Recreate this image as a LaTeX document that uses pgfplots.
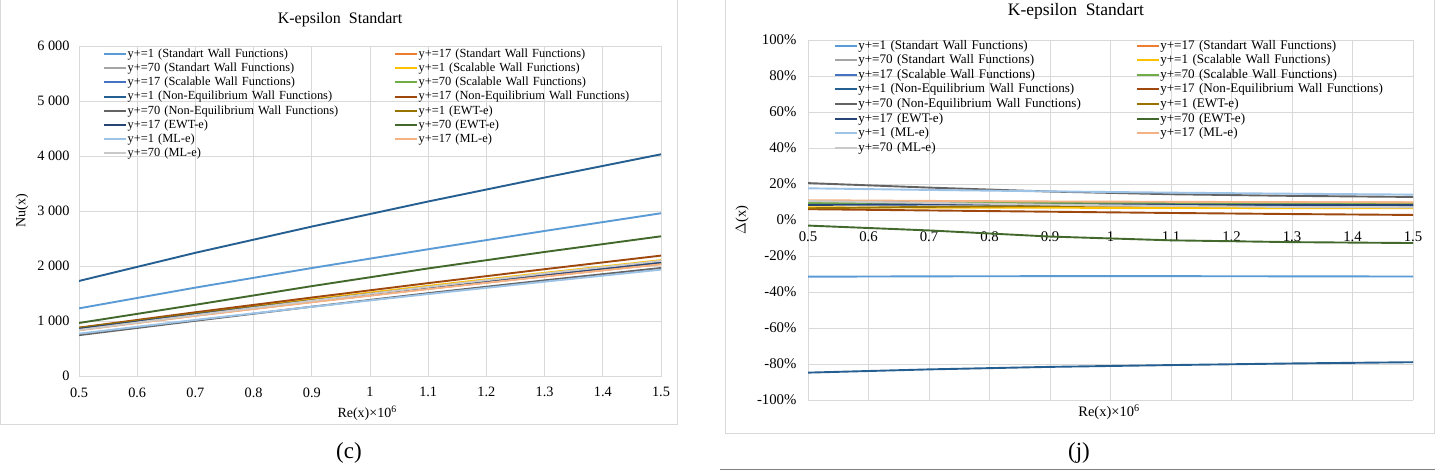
\documentclass[border=0pt]{standalone}
\usepackage{fontspec}
\setmainfont{Liberation Serif}
\usepackage{pgfplots}
\pgfplotsset{compat=1.18}
\usepackage{pgfplotstable}

\definecolor{c1}{HTML}{5B9BD5}
\definecolor{c2}{HTML}{ED7D31}
\definecolor{c3}{HTML}{A5A5A5}
\definecolor{c4}{HTML}{FFC000}
\definecolor{c5}{HTML}{4472C4}
\definecolor{c6}{HTML}{70AD47}
\definecolor{c7}{HTML}{255E91}
\definecolor{c8}{HTML}{9E480E}
\definecolor{c9}{HTML}{636363}
\definecolor{c10}{HTML}{997300}
\definecolor{c11}{HTML}{264478}
\definecolor{c12}{HTML}{43682B}
\definecolor{c13}{HTML}{9DC3E6}
\definecolor{c14}{HTML}{F4B183}
\definecolor{c15}{HTML}{C9C9C9}
\definecolor{gridc}{HTML}{D9D9D9}

% Nu(x) values
\pgfplotstableread{
x   s1   s2   s3   s4   s5   s6   s7   s8   s9   s10  s11  s12  s13  s14  s15
0.5 1230 837  851  870  842  846  1728 879  743  874  857  964  770  832  837
0.7 1607 1099 1116 1140 1105 1107 2240 1159 1004 1135 1119 1295 1020 1094 1108
0.9 1963 1346 1367 1394 1354 1354 2717 1427 1260 1379 1367 1634 1258 1342 1369
1.1 2305 1585 1609 1639 1594 1592 3173 1689 1506 1615 1608 1956 1490 1580 1620
1.3 2637 1813 1843 1876 1825 1821 3608 1942 1739 1841 1839 2255 1715 1809 1863
1.5 2959 2036 2072 2106 2049 2045 4031 2189 1964 2063 2065 2540 1934 2031 2094
}\nutable

% Delta(x) values in percent
\pgfplotstableread{
x   s1    s2   s3  s4  s5   s6  s7    s8  s9   s10 s11 s12   s13  s14  s15
0.5 -31.5 10.5 9.0 7.0 10.0 9.5 -84.8 6.0 20.5 6.5 8.4 -3.1  17.6 11.0 10.5
0.7 -31.3 10.2 8.8 6.9 9.7  9.6 -83.0 5.3 18.0 7.3 8.6 -5.8  16.7 10.6 9.5
0.9 -31.2 10.0 8.6 6.8 9.5  9.5 -81.6 4.6 15.8 7.8 8.6 -9.2  15.9 10.3 8.5
1.1 -31.2 9.8  8.4 6.7 9.3  9.4 -80.6 3.9 14.3 8.1 8.5 -11.3 15.2 10.1 7.8
1.3 -31.3 9.7  8.2 6.6 9.1  9.3 -79.7 3.3 13.4 8.3 8.4 -12.3 14.6 9.9  7.2
1.5 -31.4 9.6  8.0 6.5 9.0  9.2 -79.0 2.8 12.8 8.4 8.3 -12.8 14.1 9.8  7.0
}\deltable

\pgfplotsset{
  excel/.style={
    scale only axis,
    xmin=0.5, xmax=1.5,
    xtick={0.5,0.6,0.7,0.8,0.9,1,1.1,1.2,1.3,1.4,1.5},
    xticklabels={0.5,0.6,0.7,0.8,0.9,1,1.1,1.2,1.3,1.4,1.5},
    grid=major,
    major grid style={draw=gridc, line width=0.8pt},
    axis line style={draw=gridc, line width=0.8pt},
    major tick length=0pt,
    tick style={draw=none},
    every axis title shift=0pt,
    legend columns=2,
    legend cell align=left,
    legend image code/.code={\draw[#1, line width=2pt] (0pt,0pt) -- (22pt,0pt);},
    every axis plot/.append style={line width=1.9pt},
  }
}

\begin{document}
\begin{tikzpicture}[x=1pt,y=1pt]
\path[use as bounding box] (0,0) rectangle (1447,470);
\fill[white] (0,0) rectangle (1447,470);
\draw[draw=gridc, line width=0.9pt] (0.5,46) rectangle (677.5,473);
\draw[draw=gridc, line width=0.9pt] (725.5,36.7) rectangle (1434.3,473);
\draw[draw=black!50, line width=1.3pt] (720,0.8) -- (1435,0.8);
\node[font=\fontsize{23}{25}\selectfont] at (349,17) {(c)};
\node[font=\fontsize{23}{25}\selectfont] at (1079,17) {(j)};

% ---------------- left chart ----------------
\begin{axis}[excel,
  at={(79pt,94pt)}, anchor=south west,
  width=582pt, height=330pt,
  ymin=0, ymax=6000,
  ytick={0,1000,2000,3000,4000,5000,6000},
  yticklabels={0,1 000,2 000,3 000,4 000,5 000,6 000},
  tick label style={font=\fontsize{14.3}{16}\selectfont},
  xticklabel style={yshift=-8pt},
  yticklabel style={xshift=-6pt},
  title={K-epsilon\ \ Standart},
  title style={font=\fontsize{16}{18}\selectfont, at={(axis description cs:0.4485,1.0688)}, anchor=base},
  xlabel={Re(x)×10\textsuperscript{6}},
  xlabel style={font=\fontsize{14}{16}\selectfont, at={(axis description cs:0.495,-0.1121)}, anchor=center},
  ylabel={Nu(x)},
  ylabel style={font=\fontsize{14}{16}\selectfont, at={(axis description cs:-0.0979,0.5)}, anchor=center},
  legend style={at={(axis description cs:0.0412,0.998)}, anchor=north west,
    draw=none, fill=none, inner sep=0pt, row sep=0pt,
    font=\fontsize{12.4}{13}\selectfont,
    nodes={inner sep=0.5pt, text width=266pt, text height=10pt, text depth=3.2pt}},
]
\addplot[c1]  table[x=x,y=s1]{\nutable};  \addlegendentry{y+=1 (Standart Wall Functions)}
\addplot[c2]  table[x=x,y=s2]{\nutable};  \addlegendentry{y+=17 (Standart Wall Functions)}
\addplot[c3]  table[x=x,y=s3]{\nutable};  \addlegendentry{y+=70 (Standart Wall Functions)}
\addplot[c4]  table[x=x,y=s4]{\nutable};  \addlegendentry{y+=1 (Scalable Wall Functions)}
\addplot[c5]  table[x=x,y=s5]{\nutable};  \addlegendentry{y+=17 (Scalable Wall Functions)}
\addplot[c6]  table[x=x,y=s6]{\nutable};  \addlegendentry{y+=70 (Scalable Wall Functions)}
\addplot[c7]  table[x=x,y=s7]{\nutable};  \addlegendentry{y+=1 (Non-Equilibrium Wall Functions)}
\addplot[c8]  table[x=x,y=s8]{\nutable};  \addlegendentry{y+=17 (Non-Equilibrium Wall Functions)}
\addplot[c9]  table[x=x,y=s9]{\nutable};  \addlegendentry{y+=70 (Non-Equilibrium Wall Functions)}
\addplot[c10] table[x=x,y=s10]{\nutable}; \addlegendentry{y+=1 (EWT-e)}
\addplot[c11] table[x=x,y=s11]{\nutable}; \addlegendentry{y+=17 (EWT-e)}
\addplot[c12] table[x=x,y=s12]{\nutable}; \addlegendentry{y+=70 (EWT-e)}
\addplot[c13] table[x=x,y=s13]{\nutable}; \addlegendentry{y+=1 (ML-e)}
\addplot[c14] table[x=x,y=s14]{\nutable}; \addlegendentry{y+=17 (ML-e)}
\addplot[c15] table[x=x,y=s15]{\nutable}; \addlegendentry{y+=70 (ML-e)}
\end{axis}

% ---------------- right chart ----------------
\begin{axis}[excel,
  at={(808pt,70pt)}, anchor=south west,
  width=605pt, height=360pt,
  ymin=-100, ymax=100,
  axis x line=middle, axis y line=left,
  axis line style={draw=gridc, line width=0.8pt, -},
  hide obscured x ticks=false,
  ytick={-100,-80,-60,-40,-20,0,20,40,60,80,100},
  yticklabels={-100\%,-80\%,-60\%,-40\%,-20\%,0\%,20\%,40\%,60\%,80\%,100\%},
  tick label style={font=\fontsize{14.8}{16}\selectfont},
  xticklabel style={anchor=north, yshift=-8pt},
  yticklabel style={anchor=east, xshift=-8pt},
  title={K-epsilon\ \ Standart},
  title style={font=\fontsize{17.5}{19}\selectfont, at={(axis description cs:0.443,1.0675)}, anchor=base},
  xlabel={Re(x)×10\textsuperscript{6}},
  xlabel style={font=\fontsize{14.5}{16}\selectfont, at={(axis description cs:0.4975,-0.0333)}, anchor=center},
  ylabel={$\Delta$(x)},
  ylabel style={font=\fontsize{14.5}{16}\selectfont, at={(axis description cs:-0.109,0.5)}, anchor=center},
  legend style={at={(axis description cs:0.0423,1.0055)}, anchor=north west,
    draw=none, fill=none, inner sep=0pt, row sep=0pt,
    font=\fontsize{13.1}{14}\selectfont,
    nodes={inner sep=0.5pt, text width=277pt, text height=10.4pt, text depth=3.2pt}},
]
\addplot[c1]  table[x=x,y=s1]{\deltable};  \addlegendentry{y+=1 (Standart Wall Functions)}
\addplot[c2]  table[x=x,y=s2]{\deltable};  \addlegendentry{y+=17 (Standart Wall Functions)}
\addplot[c3]  table[x=x,y=s3]{\deltable};  \addlegendentry{y+=70 (Standart Wall Functions)}
\addplot[c4]  table[x=x,y=s4]{\deltable};  \addlegendentry{y+=1 (Scalable Wall Functions)}
\addplot[c5]  table[x=x,y=s5]{\deltable};  \addlegendentry{y+=17 (Scalable Wall Functions)}
\addplot[c6]  table[x=x,y=s6]{\deltable};  \addlegendentry{y+=70 (Scalable Wall Functions)}
\addplot[c7]  table[x=x,y=s7]{\deltable};  \addlegendentry{y+=1 (Non-Equilibrium Wall Functions)}
\addplot[c8]  table[x=x,y=s8]{\deltable};  \addlegendentry{y+=17 (Non-Equilibrium Wall Functions)}
\addplot[c9]  table[x=x,y=s9]{\deltable};  \addlegendentry{y+=70 (Non-Equilibrium Wall Functions)}
\addplot[c10] table[x=x,y=s10]{\deltable}; \addlegendentry{y+=1 (EWT-e)}
\addplot[c11] table[x=x,y=s11]{\deltable}; \addlegendentry{y+=17 (EWT-e)}
\addplot[c12] table[x=x,y=s12]{\deltable}; \addlegendentry{y+=70 (EWT-e)}
\addplot[c13] table[x=x,y=s13]{\deltable}; \addlegendentry{y+=1 (ML-e)}
\addplot[c14] table[x=x,y=s14]{\deltable}; \addlegendentry{y+=17 (ML-e)}
\addplot[c15] table[x=x,y=s15]{\deltable}; \addlegendentry{y+=70 (ML-e)}
\end{axis}
\end{tikzpicture}
\end{document}
